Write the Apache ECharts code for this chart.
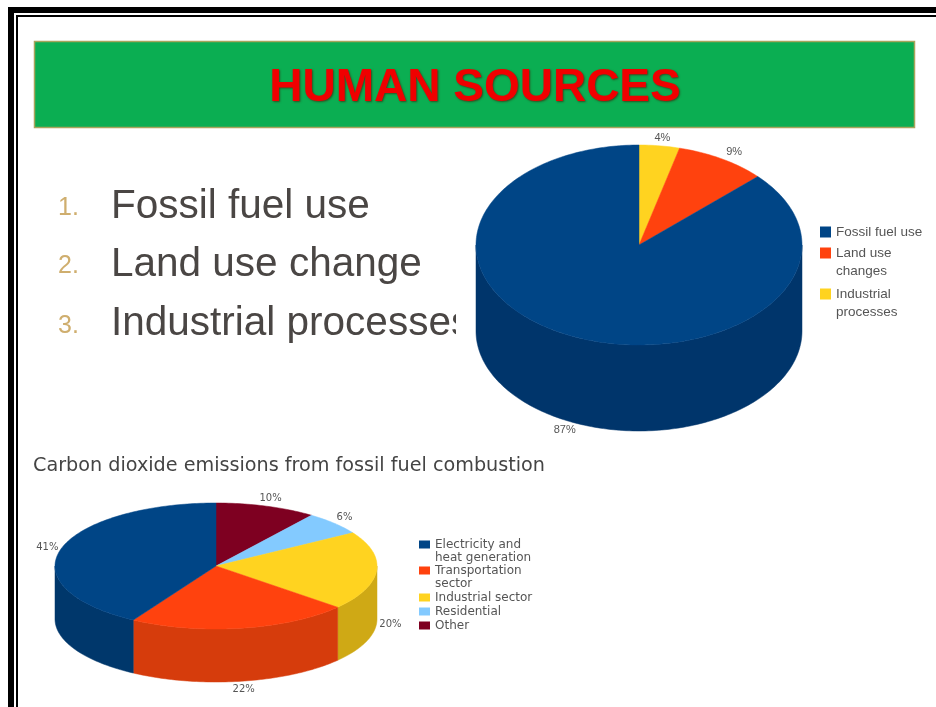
<!DOCTYPE html>
<html>
<head>
<meta charset="utf-8">
<style>
html,body{margin:0;padding:0;background:#fff;overflow:hidden}
#main{width:936px;height:707px;filter:blur(0.5px)}
</style>
<script src="https://cdn.jsdelivr.net/npm/echarts@6/dist/echarts.min.js"></script>
</head>
<body>
<div id="main"></div>
<script>
// ---- data ----
const headline = 'HUMAN SOURCES';
const listItems = ['Fossil fuel use', 'Land use change', 'Industrial processes'];
const listNumbers = ['1.', '2.', '3.'];

const sourceNames = ['Industrial\nprocesses', 'Land use\nchanges', 'Fossil fuel use'];
const sourceValues = [4, 9, 87];
const sourceLabels = ['4%', '9%', '87%'];
const sourceColors = ['#ffd320', '#ff420e', '#004586'];
const sourceSides = ['#c9a617', '#c8340b', '#00356b'];

const co2Title = 'Carbon dioxide emissions from fossil fuel combustion';
const co2Names = ['Other', 'Residential', 'Industrial sector', 'Transportation\nsector', 'Electricity and\nheat generation'];
const co2Values = [10, 6, 20, 22, 41];
const co2Labels = ['10%', '6%', '20%', '22%', '41%'];
const co2Colors = ['#7e0021', '#83caff', '#ffd320', '#ff420e', '#004586'];
const co2Sides = ['#5e0019', '#6299bf', '#cfa915', '#d63c0c', '#00376b'];

// ---- layout ----
const sourcePie = {cx: 639, cy: 245, rx: 163, ry: 100, depth: 86, gapX: 24, gapY: 8, font: 'Liberation Sans', size: 11};
const co2Pie = {cx: 216, cy: 566, rx: 161, ry: 63, depth: 53, gapX: 14, gapY: 8, font: 'DejaVu Sans', size: 10};
const sourceLegendTops = {'Fossil fuel use': 223, 'Land use\nchanges': 244, 'Industrial\nprocesses': 285};
const co2LegendTops = {'Electricity and\nheat generation': 538, 'Transportation\nsector': 564, 'Industrial sector': 591, 'Residential': 605, 'Other': 619};

function piePoints(p, a0, a1, dy) {
  const pts = [];
  const steps = Math.max(2, Math.ceil((a1 - a0) / 0.02));
  for (let i = 0; i <= steps; i++) {
    const a = a0 + (a1 - a0) * i / steps;
    pts.push([p.cx + p.rx * Math.sin(a), p.cy - p.ry * Math.cos(a) + dy]);
  }
  return pts;
}

function sliceSeries(names, values, labels, colors, sides, p, z) {
  const total = values.reduce((s, v) => s + v, 0);
  let run = 0;
  return values.map((v, i) => {
    const a0 = run / total * Math.PI * 2;
    run += v;
    const a1 = run / total * Math.PI * 2;
    return {
      type: 'custom',
      name: names[i],
      coordinateSystem: 'none',
      silent: true,
      z: z,
      itemStyle: {color: colors[i]},
      data: [v],
      renderItem: function () {
        const children = [];
        const f0 = Math.max(a0, Math.PI / 2), f1 = Math.min(a1, Math.PI * 3 / 2);
        if (f1 > f0) {
          const upper = piePoints(p, f0, f1, 0);
          const lower = piePoints(p, f0, f1, p.depth).reverse();
          children.push({
            type: 'polygon', z2: 1,
            shape: {points: upper.concat(lower)},
            style: {fill: sides[i], stroke: sides[i], lineWidth: 0.5}
          });
        }
        const top = [[p.cx, p.cy]].concat(piePoints(p, a0, a1, 0));
        children.push({
          type: 'polygon', z2: 5,
          shape: {points: top},
          style: {fill: colors[i], stroke: colors[i], lineWidth: 0.5}
        });
        const mid = (a0 + a1) / 2;
        const front = Math.cos(mid) < 0;
        children.push({
          type: 'text', z2: 8,
          x: p.cx + (p.rx + p.gapX) * Math.sin(mid),
          y: p.cy - (p.ry + p.gapY) * Math.cos(mid) + (front ? p.depth : 0),
          style: {
            text: labels[i], fill: '#555', font: p.size + 'px "' + p.font + '"',
            align: 'center', verticalAlign: 'middle'
          }
        });
        return {type: 'group', children: children};
      }
    };
  });
}

function swatch(w, h, lineHeight) {
  // square sits on the first text line of a two-line legend entry
  const total = lineHeight + h;
  return {
    icon: 'path://M0 0H' + w + 'V' + h + 'H0Z M0 ' + total + 'L0 ' + total + 'Z',
    itemWidth: w, itemHeight: total
  };
}

function legends(names, tops, left, w, h, lineHeight, font, fontSize) {
  return names.map(n => {
    const twoLines = n.indexOf('\n') >= 0;
    const s = twoLines ? swatch(w, h, lineHeight) : {icon: 'rect', itemWidth: w, itemHeight: h};
    return {
      left: left, top: tops[n], padding: 0, orient: 'vertical', selectedMode: false,
      itemGap: 0,
      icon: s.icon, itemWidth: s.itemWidth, itemHeight: s.itemHeight,
      data: [n],
      textStyle: {color: '#555', fontFamily: font, fontSize: fontSize, lineHeight: lineHeight}
    };
  });
}

const listTexts = [];
const baselines = [230, 288, 347];
const numberBaselines = [221, 279, 339];
listItems.forEach((t, i) => {
  listTexts.push({
    type: 'text', x: 111, y: baselines[i], z: 3,
    style: {text: t, fill: '#4a4644', font: '40.5px "Liberation Sans"', verticalAlign: 'bottom', lineHeight: 46}
  });
  listTexts.push({
    type: 'text', x: 58, y: numberBaselines[i], z: 3,
    style: {text: listNumbers[i], fill: '#cfae6e', font: '25px "Liberation Sans"', verticalAlign: 'bottom'}
  });
});

const chart = echarts.init(document.getElementById('main'), null, {renderer: 'canvas'});
chart.setOption({
  backgroundColor: '#fff',
  animation: false,
  title: [
    {
      text: headline, left: 475, top: 88, textAlign: 'center', textVerticalAlign: 'middle', padding: 0, z: 8,
      textStyle: {
        color: '#f00000', fontFamily: 'Liberation Sans', fontWeight: 'bold', fontSize: 46,
        textShadowColor: 'rgba(60,50,20,0.75)', textShadowBlur: 2, textShadowOffsetX: 1, textShadowOffsetY: 1
      }
    },
    {
      text: co2Title, left: 33, top: 457, padding: 0, z: 8,
      textStyle: {color: '#444', fontFamily: 'DejaVu Sans', fontWeight: 'normal', fontSize: 19.2}
    }
  ],
  graphic: [
    // slide frame: thick and thin rules along top and left only
    {type: 'rect', z: 1, shape: {x: 8, y: 7, width: 928, height: 6}, style: {fill: '#000'}},
    {type: 'rect', z: 1, shape: {x: 8, y: 7, width: 6, height: 700}, style: {fill: '#000'}},
    {type: 'rect', z: 1, shape: {x: 16, y: 15, width: 920, height: 2}, style: {fill: '#000'}},
    {type: 'rect', z: 1, shape: {x: 16, y: 15, width: 2, height: 692}, style: {fill: '#000'}},
    // banner
    {type: 'rect', z: 2, shape: {x: 34.5, y: 41.5, width: 880, height: 86},
      style: {fill: '#0bae52', stroke: '#a9a45c', lineWidth: 1.5}},
    ...listTexts,
    // the picture's white box clips the third line
    {type: 'rect', z: 4, shape: {x: 456, y: 290, width: 30, height: 60}, style: {fill: '#fff'}}
  ],
  legend: [
    ...legends(sourceNames, sourceLegendTops, 820, 11, 11, 18, 'Liberation Sans', 13.5),
    ...legends(co2Names, co2LegendTops, 419, 11, 8, 13, 'DejaVu Sans', 12)
  ],
  series: [
    ...sliceSeries(sourceNames, sourceValues, sourceLabels, sourceColors, sourceSides, sourcePie, 6),
    ...sliceSeries(co2Names, co2Values, co2Labels, co2Colors, co2Sides, co2Pie, 6)
  ]
});
</script>
</body>
</html>
